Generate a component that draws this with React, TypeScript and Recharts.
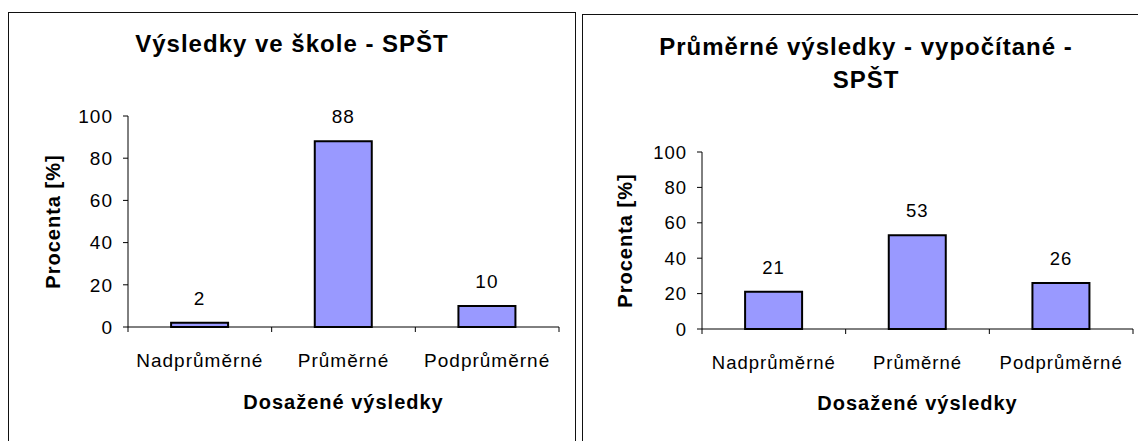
import React from 'react';
import { BarChart, Bar, XAxis, YAxis, LabelList, Label } from 'recharts';

const categories = ['Nadprůměrné', 'Průměrné', 'Podprůměrné'];
const schoolValues = [2, 88, 10];
const computedValues = [21, 53, 26];
const percentTicks = [0, 20, 40, 60, 80, 100];

const FONT = "'Liberation Sans', Arial, sans-serif";
const BAR_FILL = '#9999ff';
const TICK_GAP = 26;
const BOX_W = 568;
const PAGE_H = 441;

function CategoryTick(props: any) {
  const { x, y, payload, index, visibleTicksCount, width, fontSize } = props;
  const half = width / visibleTicksCount / 2;
  const axisY = y - TICK_GAP;
  const isLast = index === visibleTicksCount - 1;
  return (
    <g>
      <line x1={x - half} x2={x - half} y1={axisY} y2={axisY + 5} stroke="#000" />
      {isLast && <line x1={x + half} x2={x + half} y1={axisY} y2={axisY + 5} stroke="#000" />}
      <text
        x={x}
        y={y + 14}
        textAnchor="middle"
        fontSize={fontSize}
        letterSpacing={1}
        fill="#000"
        fontFamily={FONT}
      >
        {payload.value}
      </text>
    </g>
  );
}

interface ResultsChartProps {
  values: number[];
  title: string[];
  left: number;
  top: number;
  plotTop: number;
  plotBottom: number;
  tickFont: number;
  yLabelDx: number;
  xLabelDy: number;
  titleTop: number;
}

function ResultsChart({ values, title, left, top, plotTop, plotBottom, tickFont, yLabelDx, xLabelDy, titleTop }: ResultsChartProps) {
  const data = categories.map((name, i) => ({ name, value: values[i] }));
  const contentTop = top + 1;
  const chartH = PAGE_H - contentTop;

  return (
    <div
      style={{
        position: 'absolute',
        left,
        top,
        width: BOX_W,
        height: PAGE_H - top + 4,
        border: '1px solid #111',
        borderBottom: 'none',
        boxSizing: 'border-box',
        background: '#fff',
      }}
    >
      <div
        style={{
          position: 'absolute',
          left: 0,
          top: titleTop,
          width: '100%',
          textAlign: 'center',
          fontFamily: FONT,
          fontWeight: 'bold',
          fontSize: 24,
          lineHeight: '33px',
          letterSpacing: 1,
          color: '#000',
        }}
      >
        {title.map(line => (
          <div key={line}>{line}</div>
        ))}
      </div>
      <BarChart
        width={BOX_W - 2}
        height={chartH}
        data={data}
        margin={{ top: plotTop - contentTop, right: 16, left: 0, bottom: PAGE_H - plotBottom - 90 }}
        barCategoryGap="30%"
        style={{ fontFamily: FONT }}
      >
        <XAxis
          dataKey="name"
          height={90}
          interval={0}
          tickLine={false}
          tickSize={0}
          tickMargin={TICK_GAP}
          axisLine={{ stroke: '#000' }}
          tick={<CategoryTick fontSize={tickFont} />}
        >
          <Label
            value="Dosažené výsledky"
            position="center"
            dy={xLabelDy}
            fill="#000"
            style={{ fontWeight: 'bold', fontSize: 20, letterSpacing: 1, fontFamily: FONT }}
          />
        </XAxis>
        <YAxis
          type="number"
          domain={[0, 100]}
          ticks={percentTicks}
          interval={0}
          width={119}
          tickSize={5}
          tickMargin={10}
          tickLine={{ stroke: '#000' }}
          axisLine={{ stroke: '#000' }}
          tick={{ fill: '#000', fontSize: tickFont, letterSpacing: 1, fontFamily: FONT }}
        >
          <Label
            value="Procenta [%]"
            angle={-90}
            position="center"
            dx={yLabelDx}
            fill="#000"
            style={{ fontWeight: 'bold', fontSize: 20, letterSpacing: 1, fontFamily: FONT }}
          />
        </YAxis>
        <Bar dataKey="value" fill={BAR_FILL} stroke="#000" strokeWidth={2} isAnimationActive={false}>
          <LabelList
            dataKey="value"
            position="top"
            offset={18}
            fill="#000"
            fontSize={tickFont}
            fontFamily={FONT}
            letterSpacing={1}
          />
        </Bar>
      </BarChart>
    </div>
  );
}

export default function App() {
  return (
    <div
      style={{
        position: 'absolute',
        left: 0,
        top: 0,
        width: 1138,
        height: PAGE_H,
        overflow: 'hidden',
        background: '#fff',
      }}
    >
      <ResultsChart
        values={schoolValues}
        title={['Výsledky ve škole - SPŠT']}
        left={8}
        top={12}
        plotTop={116}
        plotBottom={327}
        tickFont={19}
        yLabelDx={-16}
        xLabelDy={30}
        titleTop={14}
      />
      <ResultsChart
        values={computedValues}
        title={['Průměrné výsledky - vypočítané -', 'SPŠT']}
        left={582}
        top={14}
        plotTop={152}
        plotBottom={329}
        tickFont={18.5}
        yLabelDx={-18}
        xLabelDy={29}
        titleTop={15}
      />
    </div>
  );
}
